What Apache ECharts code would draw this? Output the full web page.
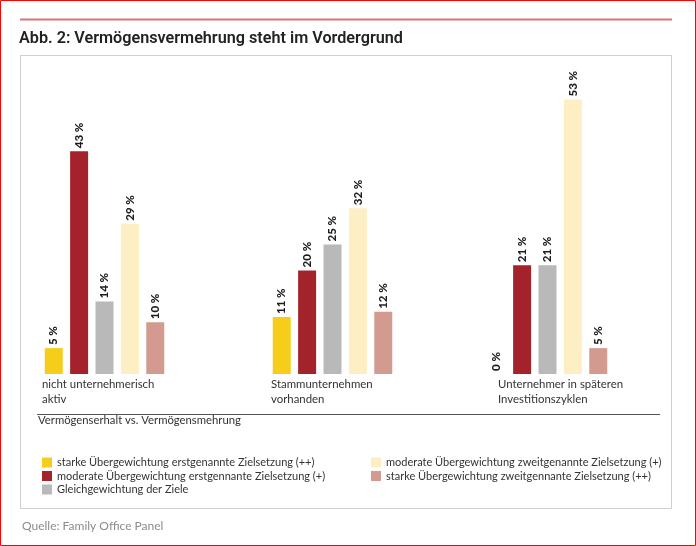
<!DOCTYPE html>
<html lang="de">
  <head>
    <meta charset="UTF-8" />
    <title>Abb. 2</title>
    <style>
      body {
        margin: 0;
        background: #fff;
      }
      #main {
        width: 696px;
        height: 546px;
      }
    </style>
  </head>
  <body>
    <div id="main"></div>
    <script src="https://cdn.jsdelivr.net/npm/echarts@6/dist/echarts.min.js"></script>
    <script>
      // Daten
      const categories = [
        "nicht unternehmerisch\naktiv",
        "Stammunternehmen\nvorhanden",
        "Unternehmer in späteren\nInvestitionszyklen",
      ];
      const seriesNames = [
        "starke Übergewichtung erstgenannte Zielsetzung (++)",
        "moderate Übergewichtung erstgennante Zielsetzung (+)",
        "Gleichgewichtung der Ziele",
        "moderate Übergewichtung zweitgenannte Zielsetzung (+)",
        "starke Übergewichtung zweitgennante Zielsetzung (++)",
      ];
      const strongFirst = [5, 11, 0];
      const moderateFirst = [43, 20, 21];
      const balanced = [14, 25, 21];
      const moderateSecond = [29, 32, 53];
      const strongSecond = [10, 12, 5];
      const values = [strongFirst, moderateFirst, balanced, moderateSecond, strongSecond];

      const colors = ["#f6cd1a", "#a3222b", "#b9b9b9", "#fdefc3", "#d39b8f"];
      const font = "Lato, 'Noto Sans', sans-serif";

      // jede Gruppe in einem eigenen Grid (ungleiche Abstände im Original)
      const groupCenter = [104.5, 332.5, 547.5];
      const labelBox = [125, 123, 99];

      const grids = [];
      const xAxes = [];
      const yAxes = [];
      const series = [];
      categories.forEach(function (cat, g) {
        grids.push({ left: groupCenter[g] - 100, width: 200, top: 63.2, height: 310.8 });
        xAxes.push({
          type: "category",
          gridIndex: g,
          data: [cat],
          axisLine: { show: false },
          axisTick: { show: false },
          axisLabel: {
            margin: 3,
            formatter: "{a|{value}}",
            rich: {
              a: {
                width: labelBox[g],
                align: "left",
                fontFamily: font,
                fontSize: 11.4,
                lineHeight: 15,
                color: "#333",
              },
            },
          },
        });
        yAxes.push({ type: "value", gridIndex: g, min: 0, max: 60, show: false });
        seriesNames.forEach(function (name, s) {
          series.push({
            name: name,
            type: "bar",
            xAxisIndex: g,
            yAxisIndex: g,
            barWidth: 18,
            barGap: "41%",
            itemStyle: { color: colors[s] },
            label: {
              show: true,
              position: "top",
              rotate: 90,
              align: "left",
              verticalAlign: "middle",
              distance: 3,
              formatter: "{c} %",
              fontFamily: font,
              fontWeight: 900,
              fontSize: 11.5,
              color: "#1e1e1e",
            },
            data: [values[s][g]],
          });
        });
      });

      const legendBase = {
        orient: "vertical",
        icon: "rect",
        itemWidth: 10,
        itemHeight: 10,
        itemGap: 0.5,
        textStyle: { fontFamily: font, fontSize: 11, lineHeight: 13, color: "#333" },
      };

      const myChart = echarts.init(document.getElementById("main"));
      myChart.setOption({
        animation: false,
        color: colors,
        title: {
          text: "Abb. 2: Vermögensvermehrung steht im Vordergrund",
          left: 14,
          top: 26,
          textStyle: { fontFamily: "Roboto, sans-serif", fontWeight: 600, fontSize: 16.2, color: "#222" },
        },
        grid: grids,
        xAxis: xAxes,
        yAxis: yAxes,
        legend: [
          Object.assign({ left: 37, top: 451, data: seriesNames.slice(0, 3) }, legendBase),
          Object.assign({ left: 366, top: 451, data: seriesNames.slice(3) }, legendBase),
        ],
        graphic: [
          // roter Rahmen
          { type: "rect", shape: { x: 0.5, y: 0.5, width: 695, height: 545 }, style: { fill: null, stroke: "#ff0000", lineWidth: 1 } },
          // Linie oben
          { type: "line", shape: { x1: 20, y1: 19.5, x2: 672, y2: 19.5 }, style: { stroke: "#d57479", lineWidth: 2 } },
          // Kasten
          { type: "rect", shape: { x: 20.5, y: 55.5, width: 651, height: 453 }, style: { fill: null, stroke: "#cfcfcf", lineWidth: 1 } },
          // Trennlinie
          { type: "line", shape: { x1: 37, y1: 414.5, x2: 660, y2: 414.5 }, style: { stroke: "#555", lineWidth: 1.2 } },
          {
            type: "text",
            left: 38,
            top: 415,
            style: { text: "Vermögenserhalt vs. Vermögensmehrung", font: "11.3px " + font, fill: "#333" },
          },
          {
            type: "text",
            left: 22,
            top: 520,
            style: { text: "Quelle: Family Office Panel", font: "12px " + font, fill: "#8c8c8c" },
          },
        ],
        series: series,
      });
    </script>
  </body>
</html>
